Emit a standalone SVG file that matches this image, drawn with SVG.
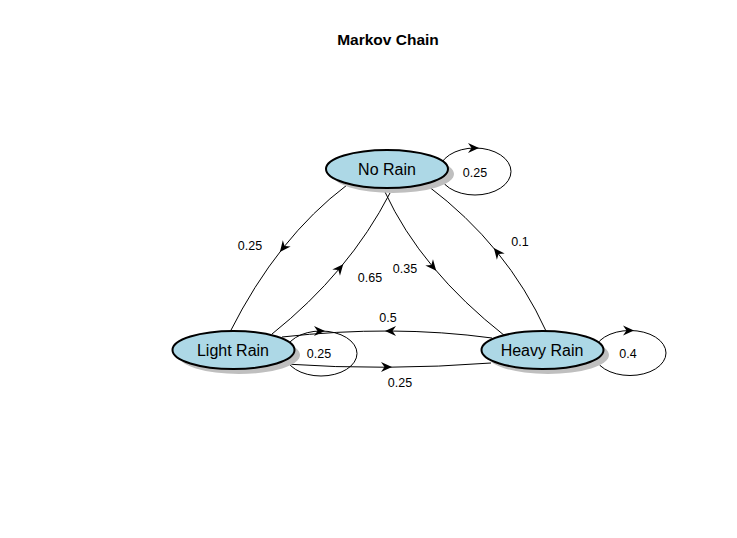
<svg xmlns="http://www.w3.org/2000/svg" width="737" height="538" viewBox="0 0 737 538">
<style>
.edge{fill:none;stroke:#000;stroke-width:1}
.node{fill:#ADD8E6;stroke:#000;stroke-width:2}
.shadow{fill:#bfbfbf;stroke:none}
.nlabel{font-family:"Liberation Sans",Arial,sans-serif;font-size:16px;fill:#000;text-anchor:middle}
.elabel{font-family:"Liberation Sans",Arial,sans-serif;font-size:12.5px;fill:#000;text-anchor:middle}
.title{font-family:"Liberation Sans",Arial,sans-serif;font-size:15.5px;font-weight:bold;fill:#000;text-anchor:middle}
</style>
<defs>
<path id="ah" d="M5,0 L-6,-5 L-2.5,0 L-6,5 Z" fill="#000"/>
</defs>
<rect width="737" height="538" fill="#fff"/>
<text class="title" x="388" y="45">Markov Chain</text>
<g id="connectors">
  <ellipse class="edge" cx="475" cy="171.5" rx="36" ry="23.5"/>
  <use href="#ah" transform="translate(474,148)"/>
  <text class="elabel" x="475" y="177">0.25</text>
  <ellipse class="edge" cx="321" cy="353.5" rx="36" ry="22.5"/>
  <use href="#ah" transform="translate(320,331)"/>
  <text class="elabel" x="319" y="358">0.25</text>
  <ellipse class="edge" cx="630" cy="353" rx="36" ry="22.5"/>
  <use href="#ah" transform="translate(629,330.5)"/>
  <text class="elabel" x="628" y="358">0.4</text>
  <path class="edge" d="M347,185 Q277.5,237.5 230,332"/>
  <use href="#ah" transform="translate(283,248) rotate(128.5)"/>
  <text class="elabel" x="250" y="250">0.25</text>
  <path class="edge" d="M272,334 Q349,272.5 390,193"/>
  <use href="#ah" transform="translate(340,268) rotate(-50)"/>
  <text class="elabel" x="370" y="282">0.65</text>
  <path class="edge" d="M385,192 Q421,270 505,336"/>
  <use href="#ah" transform="translate(433,267) rotate(50)"/>
  <text class="elabel" x="405" y="273">0.35</text>
  <path class="edge" d="M546,331 Q507,245.5 428,186"/>
  <use href="#ah" transform="translate(497,252) rotate(-129)"/>
  <text class="elabel" x="520" y="246">0.1</text>
  <path class="edge" d="M492,338 Q393,324.5 282,337"/>
  <use href="#ah" transform="translate(390,331) rotate(180)"/>
  <text class="elabel" x="388" y="322">0.5</text>
  <path class="edge" d="M285,364 Q386,371 491,363"/>
  <use href="#ah" transform="translate(387,367)"/>
  <text class="elabel" x="400" y="387">0.25</text>
</g>
<g id="node-no-rain">
  <ellipse class="shadow" cx="393" cy="174" rx="61" ry="19"/>
  <ellipse class="node" cx="387" cy="169" rx="61" ry="19"/>
  <text class="nlabel" x="387" y="175">No Rain</text>
</g>
<g id="node-light-rain">
  <ellipse class="shadow" cx="239" cy="355" rx="61" ry="19"/>
  <ellipse class="node" cx="233.5" cy="350" rx="61" ry="19"/>
  <text class="nlabel" x="233" y="356">Light Rain</text>
</g>
<g id="node-heavy-rain">
  <ellipse class="shadow" cx="548" cy="355" rx="61" ry="19"/>
  <ellipse class="node" cx="542.5" cy="350" rx="61" ry="19"/>
  <text class="nlabel" x="542" y="356">Heavy Rain</text>
</g>
</svg>
